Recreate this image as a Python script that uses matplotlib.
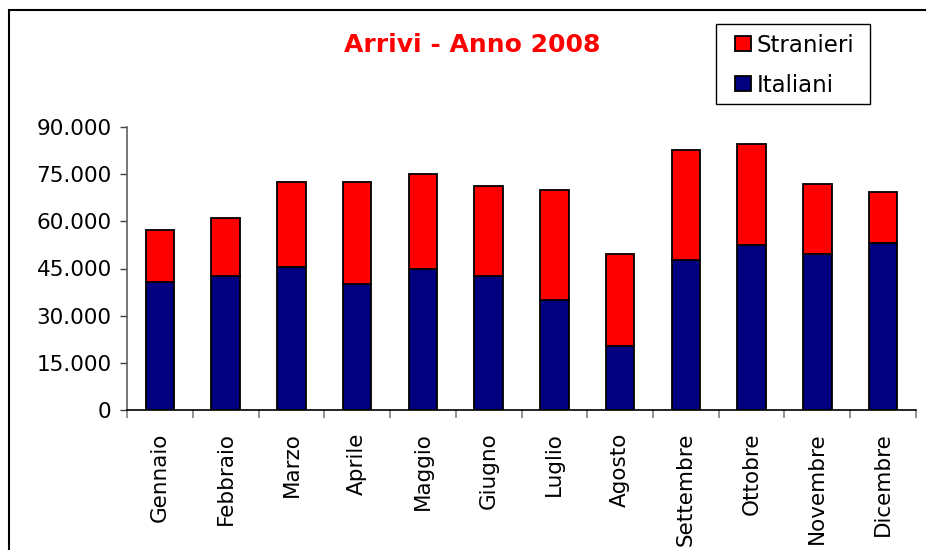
import matplotlib
matplotlib.use("Agg")
import matplotlib.pyplot as plt
from matplotlib.patches import Rectangle
from matplotlib.ticker import FuncFormatter, FixedLocator
import numpy as np

months = ["Gennaio", "Febbraio", "Marzo", "Aprile", "Maggio", "Giugno",
          "Luglio", "Agosto", "Settembre", "Ottobre", "Novembre", "Dicembre"]
italiani = [40600, 42600, 45600, 40000, 45000, 42600, 34900, 20200, 47600, 52600, 49500, 53200]
totali = [57200, 61000, 72500, 72500, 75000, 71200, 69900, 49600, 82600, 84500, 71800, 69300]
stranieri = [t - i for t, i in zip(totali, italiani)]
yticks = [0, 15000, 30000, 45000, 60000, 75000, 90000]

W, H = 926, 550
fig = plt.figure(figsize=(W / 100, H / 100), dpi=100)
ax = fig.add_axes([127 / W, 1 - 410 / H, (916 - 127) / W, (410 - 127) / H])

x = np.arange(len(months))
b1 = ax.bar(x, italiani, width=0.43, color="#000080", edgecolor="black", linewidth=1.3, label="Italiani")
b2 = ax.bar(x, stranieri, bottom=italiani, width=0.43, color="#FF0000", edgecolor="black", linewidth=1.3, label="Stranieri")

ax.set_xlim(-0.5, len(months) - 0.5)
ax.set_ylim(0, 90000)
ax.set_yticks(yticks)
ax.yaxis.set_major_formatter(FuncFormatter(lambda v, p: f"{int(v):,}".replace(",", ".")))
ax.set_xticks(x)
ax.set_xticklabels(months, rotation=90, va="top", ha="center")
ax.xaxis.set_minor_locator(FixedLocator(np.arange(-0.5, len(months), 1.0)))
ax.tick_params(axis="x", which="major", length=0, pad=16, labelsize=15.5)
ax.tick_params(axis="x", which="minor", length=6, width=1.2, color="#808080", direction="out")
ax.tick_params(axis="y", which="major", length=5, width=1.0, color="#404040", pad=6, labelsize=15.5)

for s in ["top", "right"]:
    ax.spines[s].set_visible(False)
ax.spines["left"].set_color("#606060")
ax.spines["left"].set_linewidth(1.2)
ax.spines["bottom"].set_color("black")
ax.spines["bottom"].set_linewidth(1.2)

fig.text(472 / W, 1 - 45 / H, "Arrivi - Anno 2008", color="#FF0000", fontsize=18,
         fontweight="bold", ha="center", va="center")

# legend frame drawn separately for exact box size
fig.patches.append(Rectangle((716 / W, 1 - 104 / H), (870 - 716) / W, (104 - 24) / H,
                             transform=fig.transFigure, facecolor="white",
                             edgecolor="black", linewidth=1.0, figure=fig, zorder=1))
leg = fig.legend(handles=[b2, b1], labels=["Stranieri", "Italiani"],
                 loc="upper left", bbox_to_anchor=(735 / W, 1 - 33.6 / H),
                 bbox_transform=fig.transFigure, borderaxespad=0, fontsize=16.5,
                 frameon=False, handlelength=0.7, handleheight=0.6, handletextpad=0.25,
                 borderpad=0, labelspacing=0.75)
leg.set_zorder(5)

fig.patches.append(Rectangle((9 / W, -0.5), 2.0, (1 - 10 / H) + 0.5, transform=fig.transFigure,
                             fill=False, edgecolor="black", linewidth=1.5, figure=fig))

fig.savefig("out.png", dpi=100)
